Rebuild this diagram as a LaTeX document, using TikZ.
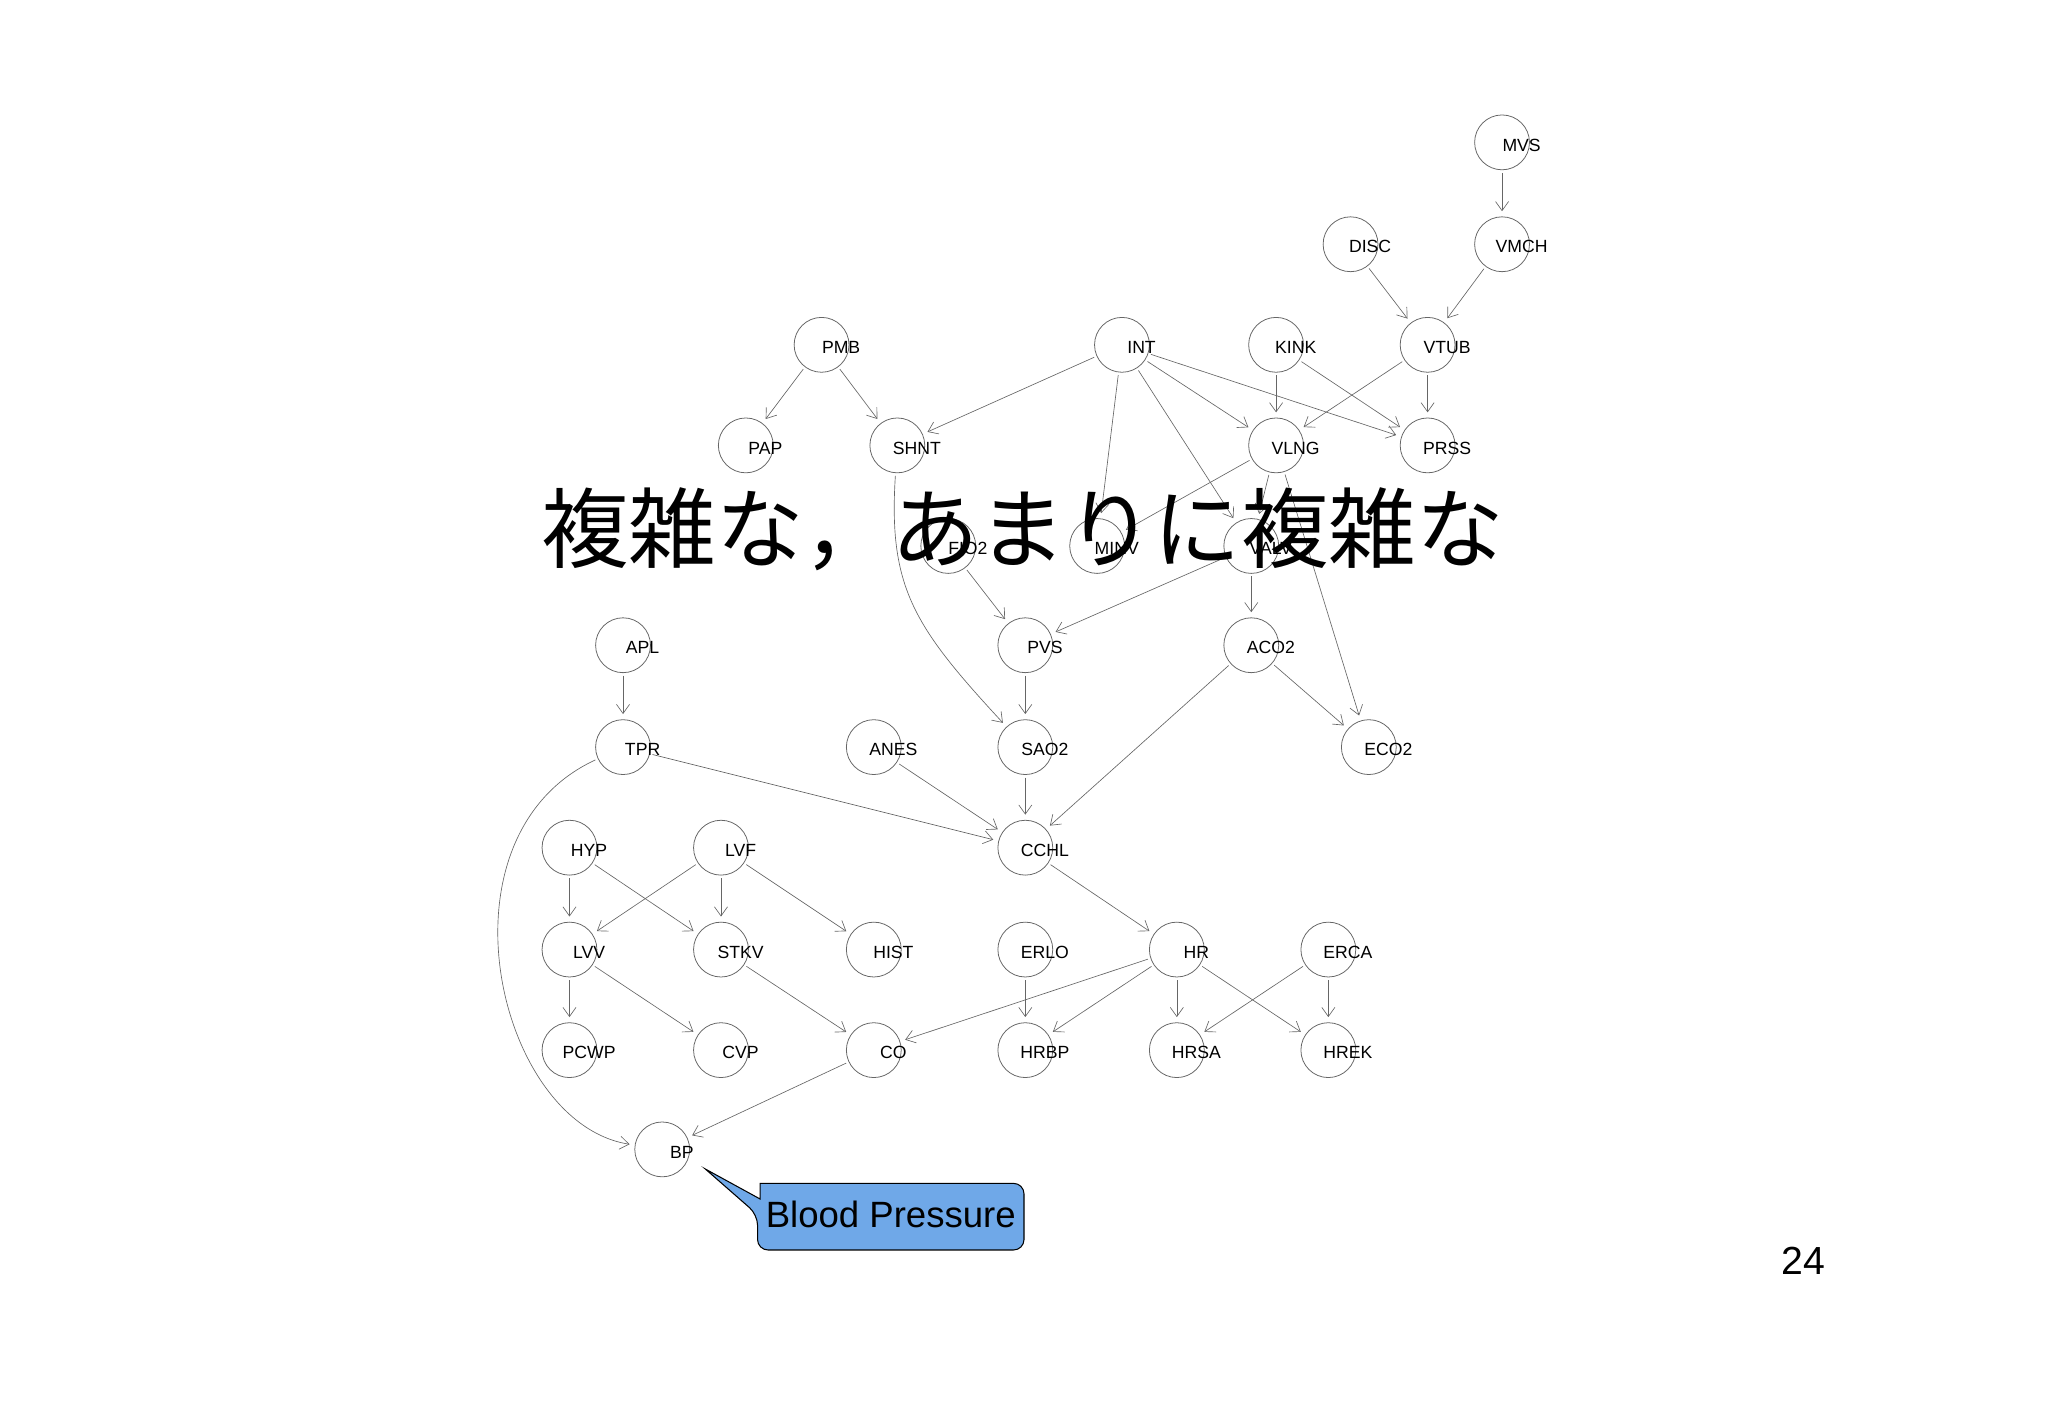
\documentclass[tikz,border=0pt]{standalone}
\usepackage{fontspec}
\setmainfont{Liberation Sans}
\newfontfamily\cjk{Noto Sans CJK JP}
\usetikzlibrary{arrows.meta}
\begin{document}
\begin{tikzpicture}[x=1pt,y=-1pt,
  bn/.style={circle,draw=black!60,line width=0.6pt,minimum size=42pt,inner sep=0pt},
  lb/.style={font=\fontsize{13.5}{13.5}\selectfont,anchor=center},
  ed/.style={draw=black!60,line width=0.5pt,-{Straight Barb[length=7pt,width=10pt]},shorten <=2pt,shorten >=4pt}]
\useasboundingbox (0,0) rectangle (1568,1085);
\foreach \n/\x/\y in {MVS/1150/109,DISC/1034/187,VMCH/1150/187,PMB/629/264,INT/859/264,KINK/977/264,VTUB/1093/264,PAP/571/341,SHNT/687/341,VLNG/977/341,PRSS/1093/341,FIO2/726/418,MINV/840/418,VALV/958/418,APL/477/494,PVS/785/494,ACO2/958/494,TPR/477/572,ANES/669/572,SAO2/785/572,ECO2/1048/572,HYP/436/649,LVF/552/649,CCHL/785/649,LVV/436/727,STKV/552/727,HIST/669/727,ERLO/785/727,HR/901/727,ERCA/1017/727,PCWP/436/804,CVP/552/804,CO/669/804,HRBP/785/804,HRSA/901/804,HREK/1017/804,BP/507/880}{
  \node[bn] (\n) at (\x,\y) {};
  \node[lb] at (\x+15,\y+2) {\n};
}
\foreach \a/\b in {MVS/VMCH,DISC/VTUB,VMCH/VTUB,PMB/PAP,PMB/SHNT,INT/SHNT,INT/MINV,INT/VALV,INT/VLNG,INT/PRSS,KINK/VLNG,KINK/PRSS,VTUB/VLNG,VTUB/PRSS,VLNG/MINV,VLNG/VALV,VLNG/ECO2,FIO2/PVS,VALV/PVS,VALV/ACO2,APL/TPR,PVS/SAO2,ACO2/CCHL,ACO2/ECO2,TPR/CCHL,ANES/CCHL,SAO2/CCHL,HYP/LVV,HYP/STKV,LVF/LVV,LVF/STKV,LVF/HIST,CCHL/HR,LVV/PCWP,LVV/CVP,STKV/CO,HR/CO,ERLO/HRBP,HR/HRBP,HR/HRSA,HR/HREK,ERCA/HRSA,ERCA/HREK,CO/BP}{
  \path[ed] (\a) -- (\b);
}
\path[ed] (SHNT) .. controls (680,450) and (700,480) .. (SAO2);
\path[ed] (TPR) .. controls (330,640) and (380,860) .. (BP);
\node[font=\cjk\fontsize{67}{67}\selectfont] (title) at (783,405) {複雑な，あまりに複雑な};
\coordinate (tip) at (540,895);
\draw[fill={rgb,255:red,111;green,168;blue,232},draw=black,line width=0.8pt] (tip) -- (582,918) -- (582,906) [rounded corners=8pt] -- (784,906) -- (784,957) -- (580,957) -- (580,930) [sharp corners]-- cycle;
\node[font=\fontsize{28}{28}\selectfont] (bp) at (682,930) {Blood Pressure};
\node[font=\fontsize{30}{30}\selectfont] (pg) at (1381,965) {24};
\end{tikzpicture}
\end{document}
